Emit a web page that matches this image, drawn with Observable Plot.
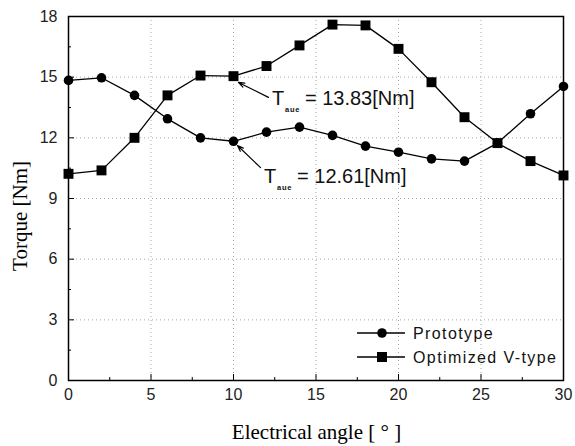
<!DOCTYPE html>
<html>
<head>
<meta charset="utf-8">
<script src="https://cdn.jsdelivr.net/npm/d3@7"></script>
<script src="https://cdn.jsdelivr.net/npm/@observablehq/plot@0.6"></script>
<style>
  html, body { margin: 0; padding: 0; background: #fff; }
  #chart { width: 575px; height: 446px; }
</style>
</head>
<body>
<div id="chart"></div>
<script>
const angles = [0, 2, 4, 6, 8, 10, 12, 14, 16, 18, 20, 22, 24, 26, 28, 30];
const prototypeTorque = [14.84, 14.97, 14.1, 12.94, 12.0, 11.83, 12.28, 12.53, 12.12, 11.59, 11.29, 10.96, 10.85, 11.74, 13.19, 14.54];
const vtypeTorque = [10.22, 10.39, 12.0, 14.1, 15.08, 15.05, 15.55, 16.57, 17.6, 17.56, 16.4, 14.75, 13.02, 11.74, 10.85, 10.14];
const seriesNames = ["Prototype", "Optimized V-type"];
const xTicks = [0, 5, 10, 15, 20, 25, 30];
const yTicks = [0, 3, 6, 9, 12, 15, 18];
const xMinor = [2.5, 7.5, 12.5, 17.5, 22.5, 27.5];
const yMinor = [1.5, 4.5, 7.5, 10.5, 13.5, 16.5];
const annotLabels = ["13.83", "12.61"];

const protoData = angles.map((a, i) => ({x: a, y: prototypeTorque[i]}));
const vData = angles.map((a, i) => ({x: a, y: vtypeTorque[i]}));
// annotation arrows (tail near text, head near marker), data units
const arrows = [
  {x1: 12.12, y1: 14.0, x2: 10.3, y2: 14.74},
  {x1: 11.64, y1: 10.53, x2: 10.24, y2: 11.62}
];
const textAnchors = [{x: 12.36, y: 13.6}, {x: 11.88, y: 9.74}];

const W = 575, H = 446;
const plot = Plot.plot({
  width: W,
  height: H,
  marginLeft: 68,
  marginRight: 12,
  marginTop: 16,
  marginBottom: 66,
  style: {background: "#fff", fontFamily: "'Liberation Sans', Arial, sans-serif"},
  x: {domain: [0, 30], label: null},
  y: {domain: [0, 18], label: null},
  marks: [
    Plot.ruleY(yTicks.slice(1, -1), {stroke: "#aaa", strokeDasharray: "1,3", strokeWidth: 1}),
    Plot.ruleX(xTicks.slice(1, -1), {stroke: "#aaa", strokeDasharray: "1,3", strokeWidth: 1}),
    Plot.axisX({ticks: xMinor, tickSize: -3, text: null, stroke: "#000"}),
    Plot.axisY({ticks: yMinor, tickSize: -3, text: null, stroke: "#000"}),
    Plot.axisX({ticks: xTicks, tickSize: -6, tickPadding: 14, fontSize: 16, stroke: "#000", fill: "#222", style: {letterSpacing: "0.5px"}}),
    Plot.axisY({ticks: yTicks, tickSize: -6, tickPadding: 17, fontSize: 16, stroke: "#000", fill: "#222", style: {letterSpacing: "0.5px"}}),
    Plot.frame({stroke: "#000", strokeWidth: 1.5}),
    Plot.line(protoData, {x: "x", y: "y", stroke: "#000", strokeWidth: 1.3}),
    Plot.line(vData, {x: "x", y: "y", stroke: "#000", strokeWidth: 1.3}),
    Plot.dot(protoData, {x: "x", y: "y", r: 4.8, fill: "#000", symbol: "circle"}),
    Plot.dot(vData, {x: "x", y: "y", r: 5.6, fill: "#000", symbol: "square"}),
    Plot.arrow(arrows, {x1: "x1", y1: "y1", x2: "x2", y2: "y2", stroke: "#000", strokeWidth: 1.2, headLength: 8, headAngle: 40})
  ]
});
document.getElementById("chart").appendChild(plot);

const svg = d3.select(plot);
const sx = plot.scale("x"), sy = plot.scale("y");
const mL = 68, mR = 12, mT = 16, mB = 66;

// annotations with subscripts
textAnchors.forEach((p, i) => {
  const px = sx.apply(p.x), py = sy.apply(p.y);
  const t = svg.append("text")
    .attr("text-anchor", "start")
    .attr("font-family", "'Liberation Sans', Arial, sans-serif")
    .attr("font-size", 20).attr("fill", "#111");
  t.append("tspan").attr("x", px).attr("y", py).text("T");
  t.append("tspan").attr("x", px + 13).attr("y", py + 7).attr("font-size", 7.5)
    .attr("font-weight", "bold").style("letter-spacing", "0.8px").text("aue");
  t.append("tspan").attr("x", px + 33).attr("y", py).text("= " + annotLabels[i] + "[Nm]");
});

// legend
const legX = 357, legY0 = 333, legDy = 24;
seriesNames.forEach((name, i) => {
  const y = legY0 + i * legDy;
  const g = svg.append("g");
  g.append("line").attr("x1", legX).attr("x2", legX + 48).attr("y1", y).attr("y2", y).attr("stroke", "#000").attr("stroke-width", 1.3);
  if (i === 0) g.append("circle").attr("cx", legX + 25).attr("cy", y).attr("r", 4.8).attr("fill", "#000");
  else g.append("rect").attr("x", legX + 25 - 5).attr("y", y - 5).attr("width", 10).attr("height", 10).attr("fill", "#000");
  g.append("text").attr("x", legX + 56).attr("y", y + 6)
    .attr("text-anchor", "start")
    .attr("font-family", "'Liberation Sans', Arial, sans-serif").attr("font-size", 16)
    .style("letter-spacing", "1.4px").attr("fill", "#111").text(name);
});

// axis titles
svg.append("text")
  .attr("x", mL + (W - mL - mR) / 2 + 1).attr("y", 439)
  .attr("text-anchor", "middle")
  .attr("font-family", "'Liberation Serif', 'Times New Roman', serif")
  .attr("font-size", 21).attr("fill", "#000")
  .text("Electrical angle [ ° ]");
svg.append("text")
  .attr("transform", `translate(27, ${mT + (H - mT - mB) / 2 + 18}) rotate(-90)`)
  .attr("text-anchor", "middle")
  .attr("font-family", "'Liberation Serif', 'Times New Roman', serif")
  .attr("font-size", 21).attr("fill", "#000")
  .text("Torque [Nm]");
</script>
</body>
</html>
